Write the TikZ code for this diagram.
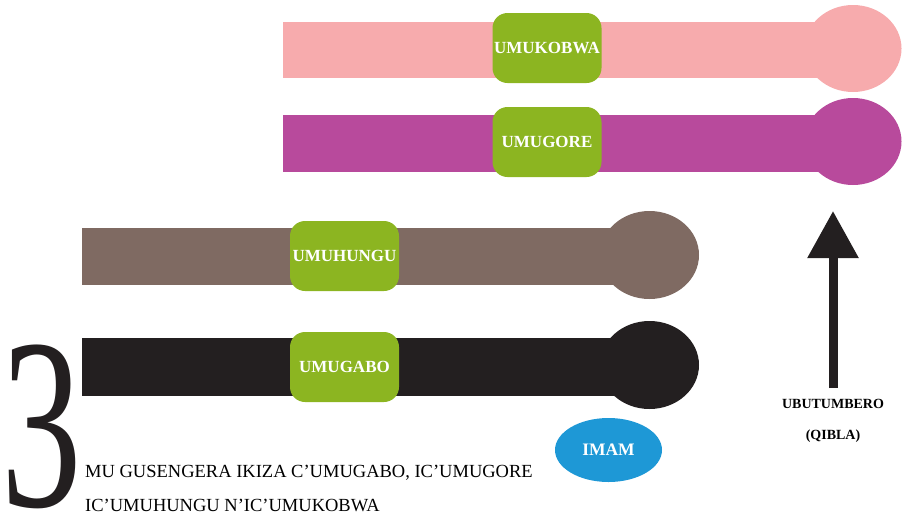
\documentclass[tikz,border=0pt]{standalone}
\usepackage{fontspec}
\setmainfont{Liberation Serif}
\usetikzlibrary{arrows.meta,shapes.geometric,positioning}
\definecolor{pinkc}{HTML}{F7ABAD}
\definecolor{magc}{HTML}{B84A9C}
\definecolor{brownc}{HTML}{7F6A62}
\definecolor{blackc}{HTML}{231F20}
\definecolor{greenc}{HTML}{8CB521}
\definecolor{bluec}{HTML}{1E98D6}

\begin{document}
\begin{tikzpicture}[x=1pt,y=-1pt,
  head/.style={ellipse,inner sep=0pt,minimum width=97pt,minimum height=87pt},
  person/.style={fill=greenc,rounded corners=15pt,inner sep=0pt,
    minimum width=109pt,minimum height=70pt,text=white,
    font=\fontsize{17}{17}\selectfont\bfseries},
  caption/.style={anchor=base west,inner sep=0pt,
    font=\fontsize{18.5}{18.5}\selectfont},
  dirtext/.style={inner sep=0pt,font=\fontsize{14}{14}\selectfont\bfseries}]
\useasboundingbox (0,0) rectangle (904,520);
% rows, back to front
\fill[pinkc] (283,22) rectangle (853,78);
\node[head,fill=pinkc] (kobwahead) at (853,48.5) {};
\fill[magc] (283,115) rectangle (853,172);
\node[head,fill=magc] (gorehead) at (853,141.5) {};
\fill[brownc] (82,228) rectangle (649,285);
\node[head,fill=brownc,minimum width=99pt,minimum height=88pt] (hungu) at (649.5,255) {};
\fill[blackc] (82,338) rectangle (649,396);
\node[head,fill=blackc,minimum width=99pt,minimum height=88pt] (gabohead) at (649.5,365) {};
% labels
\node[person] (kobwa) at (547,48) {UMUKOBWA};
\node[person] (gore) at (547,142) {UMUGORE};
\node[person] (umuhungu) at (344.5,256) {UMUHUNGU};
\node[person] (gabo) at (344.5,367) {UMUGABO};
\node[ellipse,fill=bluec,inner sep=0pt,minimum width=107pt,minimum height=64pt,
  text=white,font=\fontsize{17.5}{17.5}\selectfont\bfseries] (imam) at (608.5,450) {IMAM};
% direction
\node[dirtext] (qibla) at (833,404) {UBUTUMBERO};
\node[dirtext] (qiblab) at (833,436) {(QIBLA)};
\coordinate (tail) at (833,388);
\coordinate (tip) at (833,211);
\draw[blackc,line width=9pt,-{Triangle[length=47pt,width=49pt]}] (tail) -- (tip);
% number and caption
\node[anchor=base west,inner sep=0pt,xscale=0.66,text=blackc,
  font=\fontsize{244}{244}\selectfont] (three) at (1,506) {3};
\node[caption] (line1) at (85,477) {MU GUSENGERA IKIZA C’UMUGABO, IC’UMUGORE};
\node[caption] (line2) at (85,511) {IC’UMUHUNGU N’IC’UMUKOBWA};
\end{tikzpicture}
\end{document}
